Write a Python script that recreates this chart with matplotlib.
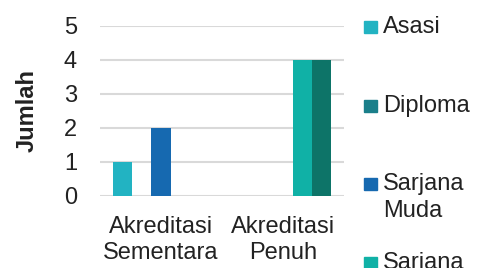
import matplotlib
matplotlib.use("Agg")
import matplotlib.pyplot as plt
from matplotlib.patches import Rectangle
import numpy as np

plt.rcParams['font.family'] = ['Liberation Sans', 'DejaVu Sans']

categories = ["Akreditasi\nSementara", "Akreditasi\nPenuh"]
series_names = ["Asasi", "Diploma", "Sarjana\nMuda", "Sarjana", "Kedoktoran"]
values = {
    "Asasi": [1, 0],
    "Diploma": [0, 0],
    "Sarjana\nMuda": [2, 0],
    "Sarjana": [0, 4],
    "Kedoktoran": [0, 4],
}
colors = ["#22B3C2", "#1A7F8A", "#1669B0", "#10B1A6", "#0D7468"]
yticks = [0, 1, 2, 3, 4, 5]

W, H = 478, 268
fig = plt.figure(figsize=(W / 100, H / 100), dpi=100)
ax = fig.add_axes([100 / W, (H - 196) / H, 244 / W, 170 / H])

x = np.arange(len(categories))
n = len(series_names)
bw = 0.78 / n
for i, name in enumerate(series_names):
    ax.bar(x + (i - (n - 1) / 2) * bw, values[name], width=bw, color=colors[i], zorder=3)

FS = 17
TXT = "#222222"
ax.set_xlim(-0.5, 1.5)
ax.set_ylim(0, 5)
ax.set_yticks(yticks)
ax.set_xticks(x)
ax.set_xticklabels(categories, fontsize=FS, color=TXT, linespacing=1.2)
ax.tick_params(axis='y', labelsize=FS, colors=TXT, length=0, pad=16.5)
ax.tick_params(axis='x', length=0, pad=14.5)
ax.grid(axis='y', color="#d9d9d9", linewidth=1.5, zorder=0)
for s in ax.spines.values():
    s.set_visible(False)
ax.set_ylabel("Jumlah", fontsize=17, fontweight='bold', color=TXT, labelpad=18)

# legend (manually laid out; bottom entries run off the canvas like the reference)
first_baseline = 33
spacing = 78.5
line_gap = 27
for i, name in enumerate(series_names):
    base = first_baseline + i * spacing
    fig.patches.append(Rectangle((364 / W, 1 - base / H), 12.5 / W, 12 / H,
                                 transform=fig.transFigure, color=colors[i]))
    for k, line in enumerate(name.split("\n")):
        fig.text(383 / W, 1 - (base + k * line_gap) / H, line, fontsize=FS, color=TXT,
                 va='baseline', ha='left')

fig.savefig("out.png", dpi=100)
